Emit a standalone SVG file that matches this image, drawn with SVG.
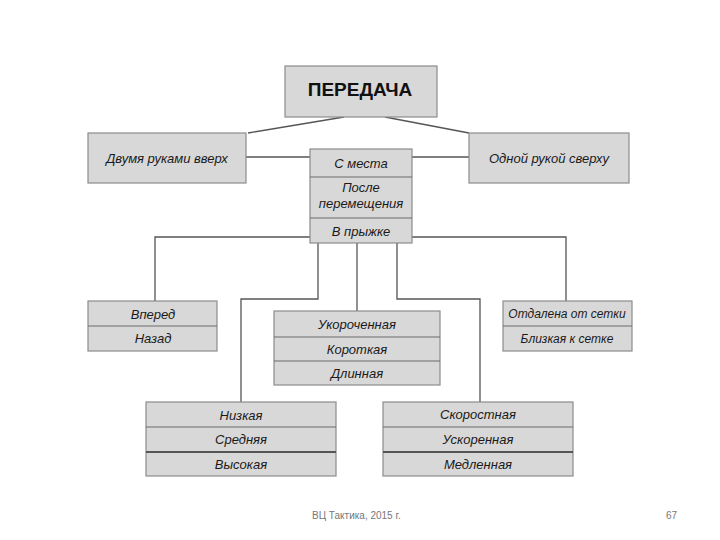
<svg xmlns="http://www.w3.org/2000/svg" width="720" height="540" viewBox="0 0 720 540">
<style>
.box{fill:#d8d8d8;stroke:#8c8c8c;stroke-width:1.2}
.div{stroke:#6a6a6a;stroke-width:1.2}
.divb{stroke:#555;stroke-width:2}
.t{font-family:"Liberation Sans",Arial,sans-serif;font-style:italic;font-size:13px;fill:#1a1a1a;text-anchor:middle;dominant-baseline:central}
.sm{font-size:12px}
.title{font-family:"Liberation Sans",Arial,sans-serif;font-weight:bold;font-size:19px;fill:#111;text-anchor:middle;dominant-baseline:central}
.ln{stroke:#555;stroke-width:1.3;fill:none}
.foot{font-family:"Liberation Sans",Arial,sans-serif;font-size:10px;fill:#777}
</style>
<rect width="720" height="540" fill="#fff"/>
<g id="connectors">
<line class="ln" x1="344" y1="117" x2="248" y2="133"/>
<line class="ln" x1="385" y1="117" x2="469" y2="133"/>
<line class="ln" x1="246" y1="157" x2="310" y2="157"/>
<line class="ln" x1="412" y1="157" x2="469" y2="157"/>
<polyline class="ln" points="310,237 155,237 155,301"/>
<polyline class="ln" points="412,237 566,237 566,301"/>
<polyline class="ln" points="318,243 318,299 241,299 241,402"/>
<line class="ln" x1="357" y1="243" x2="357" y2="311"/>
<polyline class="ln" points="397,243 397,299 480,299 480,402"/>
</g>
<g id="n-peredacha">
<rect class="box" x="285" y="66" width="152" height="51"/>
<text class="title" x="360" y="89">ПЕРЕДАЧА</text>
</g>
<g id="n-dvumya">
<rect class="box" x="88" y="133" width="158" height="50"/>
<text class="t" x="167" y="158">Двумя руками вверх</text>
</g>
<g id="n-odnoy">
<rect class="box" x="469" y="133" width="160" height="50"/>
<text class="t" x="549" y="158">Одной рукой сверху</text>
</g>
<g id="n-mesto">
<rect class="box" x="310" y="149" width="102" height="94"/>
<line class="div" x1="310" y1="177" x2="412" y2="177"/>
<line class="div" x1="310" y1="218" x2="412" y2="218"/>
<text class="t" x="361" y="163">С места</text>
<text class="t" x="361" y="187">После</text>
<text class="t" x="361" y="203">перемещения</text>
<text class="t" x="361" y="231">В прыжке</text>
</g>
<g id="n-vpered">
<rect class="box" x="88" y="301" width="129" height="50"/>
<line class="div" x1="88" y1="326" x2="217" y2="326"/>
<text class="t" x="153" y="314">Вперед</text>
<text class="t" x="153" y="338">Назад</text>
</g>
<g id="n-ukoroch">
<rect class="box" x="274" y="311" width="166" height="74"/>
<line class="div" x1="274" y1="337" x2="440" y2="337"/>
<line class="div" x1="274" y1="361" x2="440" y2="361"/>
<text class="t" x="357" y="324">Укороченная</text>
<text class="t" x="357" y="349">Короткая</text>
<text class="t" x="357" y="373">Длинная</text>
</g>
<g id="n-otdalena">
<rect class="box" x="503" y="301" width="129" height="50"/>
<line class="div" x1="503" y1="326" x2="632" y2="326"/>
<text class="t sm" x="567" y="314">Отдалена от сетки</text>
<text class="t sm" x="567" y="339">Близкая к сетке</text>
</g>
<g id="n-nizkaya">
<rect class="box" x="146" y="402" width="190" height="74"/>
<line class="div" x1="146" y1="427" x2="336" y2="427"/>
<line class="divb" x1="146" y1="452" x2="336" y2="452"/>
<text class="t" x="241" y="415">Низкая</text>
<text class="t" x="241" y="439">Средняя</text>
<text class="t" x="241" y="464">Высокая</text>
</g>
<g id="n-skorost">
<rect class="box" x="383" y="402" width="190" height="74"/>
<line class="div" x1="383" y1="427" x2="573" y2="427"/>
<line class="divb" x1="383" y1="452" x2="573" y2="452"/>
<text class="t" x="478" y="414">Скоростная</text>
<text class="t" x="478" y="439">Ускоренная</text>
<text class="t" x="478" y="464">Медленная</text>
</g>
<text class="foot" x="312" y="519">ВЦ Тактика, 2015 г.</text>
<text class="foot" x="666" y="519">67</text>
</svg>
